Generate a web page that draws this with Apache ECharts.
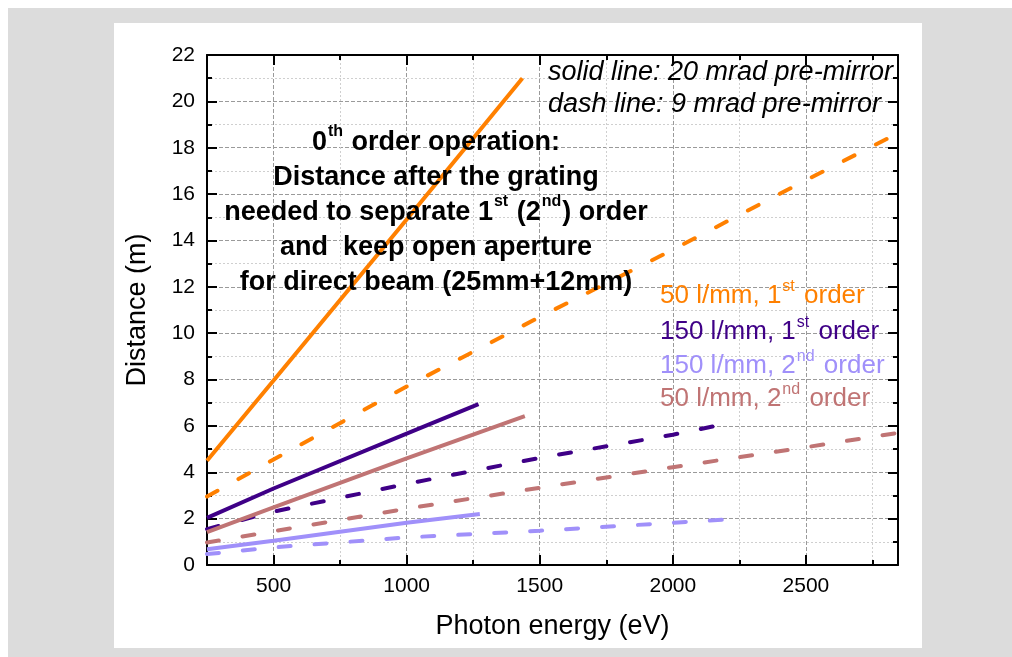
<!DOCTYPE html>
<html>
<head>
<meta charset="utf-8">
<script src="https://cdn.jsdelivr.net/npm/echarts@6/dist/echarts.min.js"></script>
<style>
html,body{margin:0;padding:0;background:#fff;}
#chart{width:1012px;height:657px;}
</style>
</head>
<body>
<div id="chart"></div>
<script>
// ---- data ----
const xMin = 250, xMax = 2846;
const yMin = 0, yMax = 22;
const yTickStep = 2;

// 20 mrad pre-mirror (solid)
const orange20X = [250, 500, 1000, 1435];
const orange20Y = [4.5, 7.96, 14.9, 21.0];
const purple20X = [250, 500, 1000, 1270];
const purple20Y = [2.03, 3.3, 5.67, 6.94];
const rose20X = [250, 500, 1000, 1444];
const rose20Y = [1.42, 2.49, 4.6, 6.42];
const lilac20X = [250, 500, 1000, 1275];
const lilac20Y = [0.68, 1.05, 1.82, 2.2];

// 9 mrad pre-mirror (dashed)
const orange9X = [250, 500, 1000, 1500, 2000, 2500, 2846];
const orange9Y = [2.95, 4.55, 7.7, 10.7, 13.6, 16.6, 18.63];
const purple9X = [250, 500, 1000, 1500, 2000, 2186];
const purple9Y = [1.55, 2.3, 3.5, 4.62, 5.62, 6.06];
const rose9X = [250, 500, 1000, 1500, 2000, 2500, 2846];
const rose9Y = [0.97, 1.46, 2.43, 3.33, 4.22, 5.08, 5.7];
const lilac9X = [250, 500, 1000, 1500, 2000, 2225];
const lilac9Y = [0.47, 0.76, 1.19, 1.48, 1.82, 1.98];

const legendLines = [
  ['50 l/mm, 1', 'st', ' order'],
  ['150 l/mm, 1', 'st', ' order'],
  ['150 l/mm, 2', 'nd', ' order'],
  ['50 l/mm, 2', 'nd', ' order']
];
const noteLines = ['solid line: 20 mrad pre-mirror', 'dash line: 9 mrad pre-mirror'];
const xAxisTitle = 'Photon energy (eV)';
const yAxisTitle = 'Distance (m)';

// ---- styling ----
const C_ORANGE = '#ff8000';
const C_PURPLE = '#3f0087';
const C_ROSE = '#c07474';
const C_LILAC = '#a090fa';
const FONT = '"Liberation Sans", Arial, Helvetica, sans-serif';

function zip(xs, ys) { return xs.map((x, i) => [x, ys[i]]); }
function mkSeries(name, xs, ys, color, dashed) {
  return {
    name: name, type: 'line', xAxisIndex: 0, yAxisIndex: 0,
    data: zip(xs, ys), symbol: 'none', smooth: false, clip: true,
    lineStyle: { color: color, width: 4, type: dashed ? [12, 24] : 'solid', cap: dashed ? 'round' : 'butt' },
    z: 5, silent: true
  };
}

const series = [
  mkSeries('o20', orange20X, orange20Y, C_ORANGE, false),
  mkSeries('o9', orange9X, orange9Y, C_ORANGE, true),
  mkSeries('p20', purple20X, purple20Y, C_PURPLE, false),
  mkSeries('p9', purple9X, purple9Y, C_PURPLE, true),
  mkSeries('r20', rose20X, rose20Y, C_ROSE, false),
  mkSeries('r9', rose9X, rose9Y, C_ROSE, true),
  mkSeries('l20', lilac20X, lilac20Y, C_LILAC, false),
  mkSeries('l9', lilac9X, lilac9Y, C_LILAC, true)
];

const majorGrid = { show: true, lineStyle: { color: '#9a9a9a', width: 1, type: [4, 2] } };
const minorGrid = { show: true, lineStyle: { color: '#cfcfcf', width: 1, type: [2, 2] } };
const axisLine = { show: true, onZero: false, lineStyle: { color: '#000', width: 2 } };
const majorTick = { show: true, inside: true, length: 10, lineStyle: { color: '#000', width: 2 } };
const minorTick = { show: true, splitNumber: 2, length: 5, lineStyle: { color: '#000', width: 2 } };
const labelFont = { color: '#000', fontSize: 21, fontFamily: FONT };

const legendColors = [C_ORANGE, C_PURPLE, C_LILAC, C_ROSE];
const legendY = [294, 330, 364, 397];
const graphics = [
  { type: 'rect', z: -100, silent: true, shape: { x: 8, y: 8, width: 1004, height: 649 }, style: { fill: '#dcdcdc' } },
  { type: 'rect', z: -99, silent: true, shape: { x: 114, y: 23, width: 808, height: 625 }, style: { fill: '#ffffff' } }
];
legendLines.forEach((parts, i) => {
  graphics.push({
    type: 'text', z: 20, silent: true, x: 660, y: legendY[i],
    style: {
      text: '{n|' + parts[0] + '}{s|' + parts[1] + '}{n|' + parts[2] + '}',
      align: 'left', verticalAlign: 'middle',
      rich: {
        n: { fontSize: 26, fontFamily: FONT, fill: legendColors[i], lineHeight: 30, verticalAlign: 'bottom' },
        s: { fontSize: 16, fontFamily: FONT, fill: legendColors[i], lineHeight: 30, verticalAlign: 'top', padding: [0, 2, 0, 1] }
      }
    }
  });
});
noteLines.forEach((t, i) => {
  graphics.push({
    type: 'text', z: 20, silent: true, x: 548, y: [72, 104][i],
    style: { text: t, fill: '#000', fontSize: 27, fontStyle: 'italic', fontFamily: FONT, align: 'left', verticalAlign: 'middle' }
  });
});
// clip overflow of the notes at the right frame
graphics.push({ type: 'rect', z: 21, silent: true, shape: { x: 899, y: 50, width: 23, height: 70 }, style: { fill: '#ffffff' } });

const titleLines = [
  ['0', 'th', ' order operation:'],
  ['Distance after the grating'],
  ['needed to separate 1', 'st', ' (2', 'nd', ') order'],
  ['and  keep open aperture'],
  ['for direct beam (25mm+12mm)']
];
const titleY = [140, 175, 210, 245, 280];
titleLines.forEach((parts, i) => {
  let txt = '';
  parts.forEach((p, j) => { txt += (j % 2 === 0 ? '{b|' : '{s|') + p + '}'; });
  graphics.push({
    type: 'text', z: 20, silent: true, x: 436, y: titleY[i],
    style: {
      text: txt, align: 'center', verticalAlign: 'middle',
      rich: {
        b: { fontSize: 27, fontWeight: 'bold', fontFamily: FONT, fill: '#000', lineHeight: 32, verticalAlign: 'bottom' },
        s: { fontSize: 16, fontWeight: 'bold', fontFamily: FONT, fill: '#000', lineHeight: 32, verticalAlign: 'top', padding: [0, 1, 0, 1] }
      }
    }
  });
});

const chart = echarts.init(document.getElementById('chart'), null, { renderer: 'canvas', width: 1012, height: 657 });
chart.setOption({
  animation: false,
  backgroundColor: '#ffffff',
  grid: { left: 207, right: 114, top: 55, bottom: 92, containLabel: false },
  xAxis: [
    {
      type: 'value', position: 'bottom', min: xMin, max: xMax, splitNumber: 5,
      name: xAxisTitle, nameLocation: 'middle', nameGap: 48,
      nameTextStyle: { color: '#000', fontSize: 27, fontFamily: FONT },
      axisLine: axisLine, axisTick: majorTick, minorTick: minorTick,
      axisLabel: Object.assign({ margin: 11, showMinLabel: true, showMaxLabel: true,
        formatter: v => (Math.abs(v % 500) < 1e-6 ? String(v) : '') }, labelFont),
      splitLine: majorGrid, minorSplitLine: minorGrid
    },
    {
      type: 'value', position: 'top', min: xMin, max: xMax, splitNumber: 5,
      axisLine: axisLine, axisTick: majorTick, minorTick: minorTick,
      axisLabel: { show: false }, splitLine: { show: false }, minorSplitLine: { show: false }
    }
  ],
  yAxis: [
    {
      type: 'value', position: 'left', min: yMin, max: yMax, interval: yTickStep,
      name: yAxisTitle, nameLocation: 'middle', nameGap: 56, nameRotate: 90,
      nameTextStyle: { color: '#000', fontSize: 27, fontFamily: FONT },
      axisLine: axisLine, axisTick: majorTick, minorTick: minorTick,
      axisLabel: Object.assign({ margin: 12 }, labelFont),
      splitLine: majorGrid, minorSplitLine: minorGrid
    },
    {
      type: 'value', position: 'right', min: yMin, max: yMax, interval: yTickStep,
      axisLine: axisLine, axisTick: majorTick, minorTick: minorTick,
      axisLabel: { show: false }, splitLine: { show: false }, minorSplitLine: { show: false }
    }
  ],
  graphic: { elements: graphics },
  series: series
});
</script>
</body>
</html>
